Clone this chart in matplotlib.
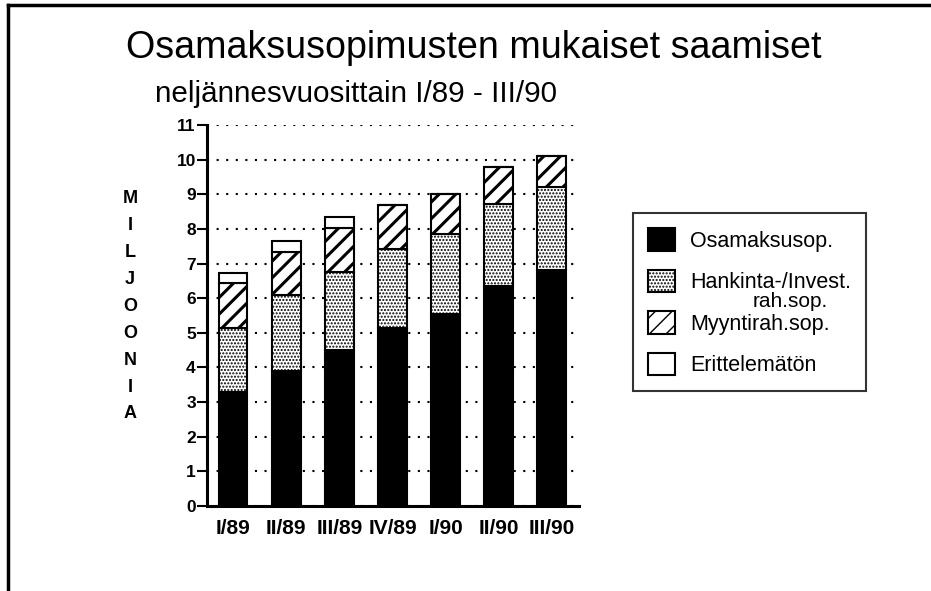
import matplotlib
matplotlib.use("Agg")
import matplotlib.pyplot as plt
from matplotlib.lines import Line2D

plt.rcParams['font.family'] = ['Liberation Sans', 'DejaVu Sans']

quarters = ['I/89', 'II/89', 'III/89', 'IV/89', 'I/90', 'II/90', 'III/90']
osamaksu = [3.3, 3.9, 4.5, 5.15, 5.55, 6.35, 6.8]
hankinta = [1.85, 2.2, 2.27, 2.28, 2.3, 2.37, 2.42]
myyntirah = [1.28, 1.23, 1.27, 1.25, 1.15, 1.06, 0.88]
erittelematon = [0.3, 0.33, 0.31, 0, 0, 0, 0]

fig = plt.figure(figsize=(9.31, 5.91), dpi=100)
ax = fig.add_axes([0.2223, 0.1438, 0.3997, 0.6447])

x = list(range(len(quarters)))
w = 0.545
b2 = [a + b for a, b in zip(osamaksu, hankinta)]
b3 = [a + b for a, b in zip(b2, myyntirah)]

ax.bar(x, osamaksu, w, color='black', edgecolor='black', linewidth=1.5,
       label='Osamaksusop.', zorder=3)
with plt.rc_context({'hatch.linewidth': 1.0}):
    ax.bar(x, hankinta, w, bottom=osamaksu, color='white', edgecolor='black',
           linewidth=1.5, hatch='.....', label='Hankinta-/Invest.', zorder=3)
with plt.rc_context({'hatch.linewidth': 2.2}):
    ax.bar(x, myyntirah, w, bottom=b2, color='white', edgecolor='black',
           linewidth=1.5, hatch='//', label='Myyntirah.sop.', zorder=3)
ax.bar(x, erittelematon, w, bottom=b3, color='white', edgecolor='black',
       linewidth=1.5, label='Erittelemätön', zorder=3)

ax.set_xlim(-0.49, 6.51)
ax.set_ylim(0, 11)
ax.set_yticks(range(0, 12))
ax.set_xticks(x)
ax.set_xticklabels(quarters, fontsize=15, fontweight='bold')
ax.tick_params(axis='x', length=0, pad=9)
ax.tick_params(axis='y', length=7, width=1.5, pad=1, labelsize=12.5)
for lab in ax.get_yticklabels():
    lab.set_fontweight('bold')

for s in ['top', 'right']:
    ax.spines[s].set_visible(False)
ax.spines['left'].set_linewidth(2.2)
ax.spines['bottom'].set_linewidth(2.2)

ax.yaxis.grid(True, color='black', linestyle=(0, (1, 3.6)), linewidth=1.5, zorder=1)
ax.set_axisbelow(True)

ax.set_ylabel('\n'.join('MILJOONIA'), rotation=0, fontsize=13, fontweight='bold',
              linespacing=1.76, va='center', ha='center')
ax.yaxis.set_label_coords(-0.207, 0.524)

fig.text(0.509, 0.902, 'Osamaksusopimusten mukaiset saamiset', fontsize=27.1,
         ha='center', va='baseline')
fig.text(155 / 931, 0.8274, 'neljännesvuosittain I/89 - III/90', fontsize=21.3,
         ha='left', va='baseline')

leg = ax.legend(loc='upper left', bbox_to_anchor=(633 / 931, 378 / 591),
                bbox_transform=fig.transFigure, fontsize=15.5, frameon=True,
                fancybox=False, edgecolor='black', borderpad=0.7,
                handlelength=1.25, handleheight=1.25, handletextpad=0.7,
                labelspacing=0.83, borderaxespad=0)
leg.get_frame().set_linewidth(1.5)
fig.text(828 / 931, (591 - 307) / 591, 'rah.sop.', fontsize=15,
         ha='right', va='baseline')

# frame lines of the scanned page
fig.add_artist(Line2D([8 / 931, 1], [1 - 5 / 591, 1 - 5 / 591], color='black',
                      linewidth=2.5, transform=fig.transFigure))
fig.add_artist(Line2D([8 / 931, 8 / 931], [0, 1 - 5 / 591], color='black',
                      linewidth=2.5, transform=fig.transFigure))

fig.savefig('out.png', dpi=100)
